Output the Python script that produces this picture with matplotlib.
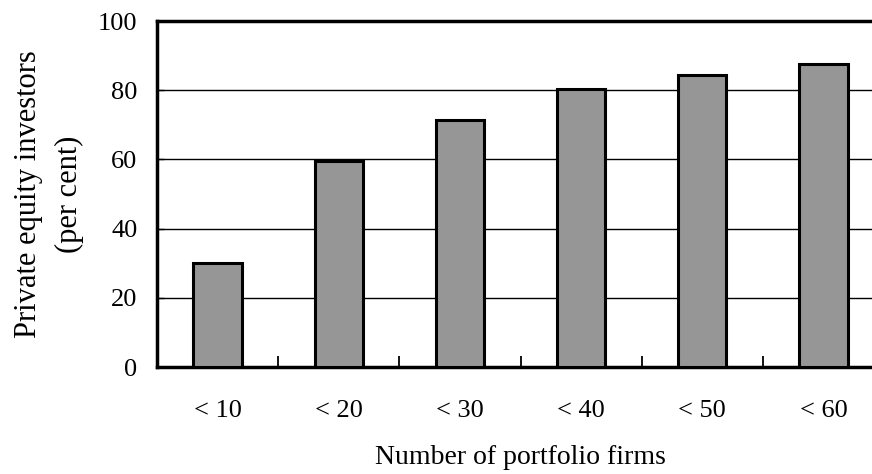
import numpy as np
import matplotlib
matplotlib.use("Agg")
import matplotlib.pyplot as plt

# data
categories = ["< 10", "< 20", "< 30", "< 40", "< 50", "< 60"]
investors_pct = [30, 59.5, 71.5, 80.3, 84.3, 87.5]
y_ticks = [0, 20, 40, 60, 80, 100]

plt.rcParams['font.family'] = ['Liberation Serif', 'DejaVu Serif']

fig = plt.figure(figsize=(8.72, 4.74), dpi=100)
# axes run a little past the right edge, as in the reference
ax = fig.add_axes([157 / 872, 1 - 367 / 474, 727 / 872, 346 / 474])

x = np.arange(len(categories))
ax.bar(x, investors_pct, width=0.4, color='#969696', edgecolor='black',
       linewidth=2.2, zorder=3)

ax.set_xlim(-0.5, len(categories) - 0.5)
ax.set_ylim(0, 100)
ax.set_yticks(y_ticks)
ax.set_yticklabels([str(v) for v in y_ticks], fontsize=19)
for v in y_ticks[1:-1]:
    ax.axhline(v, color='black', linewidth=1.0, zorder=1)

# category labels, separator ticks between categories
ax.set_xticks(x)
ax.set_xticklabels(categories, fontsize=19)
ax.tick_params(axis='x', which='major', length=0, pad=24)
ax.set_xticks(np.arange(0.5, len(categories) - 0.5, 1.0), minor=True)
ax.tick_params(axis='x', which='minor', direction='in', length=8, width=1.3)
ax.tick_params(axis='y', direction='in', length=5, width=1.0, pad=14)

for side in ['left', 'top', 'bottom']:
    ax.spines[side].set_linewidth(2.5)
ax.spines['right'].set_visible(False)

ax.set_xlabel("Number of portfolio firms", fontsize=20, labelpad=16)
ax.set_ylabel("Private equity investors\n(per cent)", fontsize=22, labelpad=10,
              linespacing=1.55)

fig.savefig("out.png", dpi=100)
